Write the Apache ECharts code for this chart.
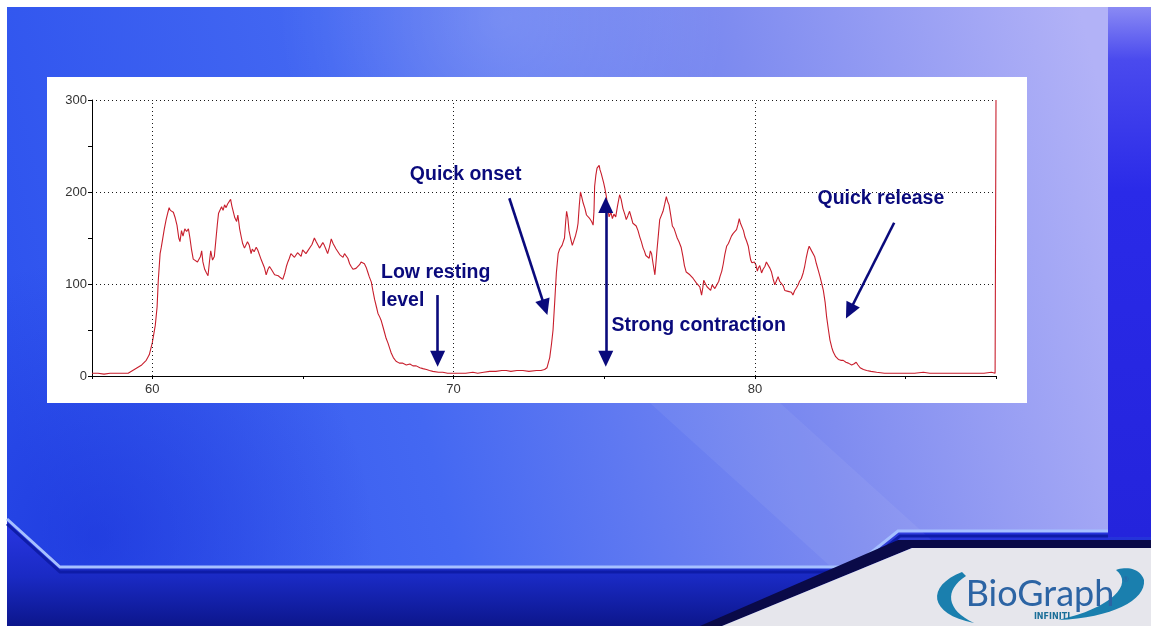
<!DOCTYPE html>
<html><head><meta charset="utf-8">
<script src="https://cdn.jsdelivr.net/npm/echarts@6/dist/echarts.min.js"></script>
<style>html,body{margin:0;padding:0;background:#fff;overflow:hidden}#c{width:1151px;height:626px}</style>
</head><body><div id="c"></div>
<script>
// ---- axis setup (seconds on x, EMG amplitude on y) ----
const xAxisRange = [58, 88];
const yAxisRange = [0, 300];
const xLabelValues = [60, 70, 80];
const yLabelStep = 100;
const xGridValues = [60, 70, 80];

// ---- EMG signal as [time, amplitude] ----
const restBefore = [[58.0,3],[58.2,3],[58.4,2],[58.6,3],[58.8,3],[59.0,3],[59.2,3],[59.35,6],[59.5,9],[59.65,12],[59.8,17],[59.9,23]];
const contraction1 = [[60.0,36],[60.1,55],[60.16,75],[60.2,104],[60.26,133],[60.3,140],[60.34,148],[60.4,160],[60.46,170],[60.52,178],[60.56,183],[60.6,180],[60.64,182],[60.7,178],[60.76,172],[60.82,164],[60.88,150],[60.92,146],[60.97,158],[61.02,152],[61.08,160],[61.14,157],[61.2,160],[61.25,150],[61.3,138],[61.36,127],[61.42,126],[61.5,124],[61.56,122],[61.6,130],[61.64,136],[61.68,124],[61.74,116],[61.8,112],[61.85,109],[61.9,125],[61.94,136],[62.0,126],[62.06,130],[62.1,128],[62.16,165],[62.2,177],[62.26,178],[62.3,184],[62.35,180],[62.4,186],[62.45,183],[62.5,187],[62.56,188],[62.6,192],[62.64,185],[62.7,186],[62.74,172],[62.8,168],[62.84,175],[62.9,160],[62.96,150],[63.0,144],[63.06,139],[63.11,139],[63.16,146],[63.22,142],[63.28,133],[63.32,138],[63.38,135],[63.45,140],[63.5,137],[63.55,135],[63.62,126],[63.67,124],[63.72,118],[63.78,110],[63.84,116],[63.89,119],[63.95,116],[64.0,114],[64.06,110],[64.11,108],[64.18,109],[64.25,107],[64.33,105],[64.4,112],[64.45,119],[64.5,124],[64.55,128],[64.6,133],[64.66,135],[64.72,129],[64.77,131],[64.82,134],[64.88,135],[64.94,130],[64.99,137],[65.05,136],[65.1,133],[65.16,136],[65.22,135],[65.3,143],[65.38,150],[65.44,146],[65.49,144],[65.55,139],[65.6,137],[65.66,145],[65.71,142],[65.76,138],[65.82,133],[65.88,140],[65.94,149],[66.0,144],[66.05,141],[66.1,138],[66.16,135],[66.22,132],[66.27,131],[66.33,129],[66.38,133],[66.44,131],[66.49,128],[66.55,122],[66.6,119],[66.66,116],[66.71,115],[66.76,117],[66.82,119],[66.88,121],[66.93,124],[66.98,125],[67.04,122],[67.1,118],[67.15,113],[67.2,108],[67.27,102],[67.32,93],[67.38,83],[67.44,75],[67.49,68],[67.55,64],[67.6,60],[67.66,53],[67.71,47],[67.76,41],[67.82,36],[67.88,30],[67.93,25],[68.0,20],[68.09,16]];
const restBetween = [[68.2,14],[68.3,14],[68.43,12],[68.55,13],[68.65,11],[68.76,11],[68.88,9],[68.98,8],[69.1,7],[69.2,6],[69.31,5],[69.5,4],[69.64,4],[69.8,3],[70.0,3],[70.2,3],[70.4,3],[70.64,4],[70.8,3],[71.0,4],[71.2,5],[71.4,5],[71.6,6],[71.75,6],[71.9,5],[72.1,6],[72.3,6],[72.5,5],[72.75,6],[72.9,6],[73.02,7]];
const contraction2 = [[73.1,9],[73.19,20],[73.25,35],[73.3,50],[73.36,83],[73.41,112],[73.47,133],[73.52,138],[73.55,140],[73.6,142],[73.63,144],[73.68,150],[73.72,168],[73.75,179],[73.79,172],[73.83,158],[73.88,150],[73.94,142],[74.0,148],[74.05,153],[74.1,160],[74.13,166],[74.17,185],[74.21,200],[74.25,195],[74.3,188],[74.36,182],[74.41,175],[74.47,173],[74.52,171],[74.58,168],[74.63,164],[74.66,180],[74.68,206],[74.72,218],[74.76,226],[74.8,224],[74.83,229],[74.86,224],[74.9,220],[74.94,218],[74.98,210],[75.02,204],[75.07,195],[75.12,182],[75.16,173],[75.22,178],[75.27,171],[75.32,176],[75.38,173],[75.44,185],[75.51,197],[75.56,192],[75.62,182],[75.68,176],[75.73,170],[75.78,174],[75.84,179],[75.9,172],[75.95,166],[76.0,168],[76.06,163],[76.12,158],[76.18,151],[76.23,146],[76.29,139],[76.33,136],[76.38,131],[76.44,133],[76.49,128],[76.53,136],[76.57,133],[76.62,122],[76.68,110],[76.72,125],[76.75,137],[76.8,155],[76.84,170],[76.9,172],[76.95,179],[77.0,186],[77.06,195],[77.1,190],[77.15,186],[77.2,176],[77.26,163],[77.32,160],[77.37,155],[77.42,150],[77.48,146],[77.55,140],[77.61,130],[77.66,120],[77.72,113],[77.78,115],[77.84,110],[77.9,108],[77.95,106],[78.0,104],[78.06,101],[78.12,99],[78.17,97],[78.23,88],[78.27,96],[78.3,104],[78.36,100],[78.41,97],[78.47,95],[78.53,93],[78.58,99],[78.61,99],[78.67,95],[78.73,97],[78.8,103],[78.84,108],[78.9,114],[78.95,122],[79.0,132],[79.06,141],[79.12,144],[79.17,148],[79.22,152],[79.28,155],[79.34,153],[79.39,159],[79.44,165],[79.48,171],[79.52,166],[79.56,168],[79.62,158],[79.67,151],[79.72,147],[79.78,141],[79.82,133],[79.86,126],[79.9,123],[79.94,121],[79.98,124],[80.03,121],[80.08,114],[80.11,117],[80.16,120],[80.22,112],[80.27,116],[80.33,119],[80.38,124],[80.44,122],[80.5,117],[80.55,113],[80.6,106],[80.66,99],[80.72,104],[80.77,108],[80.82,103],[80.88,104],[80.94,98],[80.99,93],[81.05,95],[81.1,92],[81.16,90],[81.21,91],[81.26,88],[81.32,93],[81.38,96],[81.43,99],[81.48,103],[81.54,106],[81.6,112],[81.65,119],[81.7,128],[81.76,137],[81.8,141],[81.84,139],[81.88,136],[81.93,137],[81.98,130],[82.04,122],[82.1,115],[82.16,108],[82.22,100],[82.27,93],[82.33,80],[82.38,64],[82.44,50],[82.49,39],[82.55,31],[82.6,26],[82.68,21],[82.77,18]];
const restAfter = [[82.85,17],[82.93,17],[83.02,15],[83.1,14],[83.16,13],[83.21,12],[83.28,13],[83.36,15],[83.42,12],[83.49,9],[83.6,7],[83.71,6],[83.85,5],[84.04,4],[84.3,3],[84.5,3],[84.71,3],[85.0,3],[85.3,3],[85.59,4],[85.8,3],[86.1,3],[86.37,3],[86.7,3],[87.0,3],[87.3,3],[87.6,3],[87.85,4],[87.97,3],[88.0,300]];

// ---- annotations (anchored in data coordinates) ----
const annotationTexts = [
  {text: 'Quick onset', at: [70.4, 218.5], align: 'center'},
  {text: 'Quick release', at: [84.18, 192.4], align: 'center'},
  {text: 'Strong contraction', at: [78.13, 54.3], align: 'center'},
  {text: 'Low resting\nlevel', at: [67.59, 96.7], align: 'left'}
];
const annotationArrows = [
  {from: [69.47, 88], to: [69.47, 18.8], heads: ['none', 'triangle']},
  {from: [71.85, 193.2], to: [73.03, 74.6], heads: ['none', 'triangle']},
  {from: [75.05, 185.9], to: [75.05, 18.8], heads: ['triangle', 'triangle']},
  {from: [84.62, 166.6], to: [83.14, 70.4], heads: ['none', 'triangle']}
];

const signal = [].concat(restBefore, contraction1, restBetween, contraction2, restAfter);

const navy = '#0a0a7c';
const headSize = [15, 16];
const dotted = {type: [1, 3], color: '#1a1a1a', width: 1};

const gridMarks = xGridValues.map(v => ({xAxis: v, symbol: 'none', lineStyle: dotted}));
const arrowMarks = annotationArrows.map(a => [
  {coord: a.from, symbol: a.heads[0], symbolSize: headSize, lineStyle: {color: navy, width: 2.6, type: 'solid'}},
  {coord: a.to, symbol: a.heads[1], symbolSize: headSize}
]);
const textMarks = annotationTexts.map(t => ({
  coord: t.at,
  symbol: 'circle', symbolSize: 1,
  itemStyle: {color: 'rgba(0,0,0,0)'},
  label: {
    show: true, position: 'inside', formatter: t.text, align: t.align, verticalAlign: 'middle',
    color: navy, fontSize: 19.5, fontWeight: 'bold', lineHeight: 28,
    fontFamily: '"Liberation Sans", Arial, sans-serif'
  }
}));

// ---- decorative slide background ----
function bezierPoly(segs, n) {
  const pts = [];
  segs.forEach(s => {
    for (let i = 0; i <= n; i++) {
      const t = i / n, u = 1 - t;
      pts.push([
        u*u*u*s[0][0] + 3*u*u*t*s[1][0] + 3*u*t*t*s[2][0] + t*t*t*s[3][0],
        u*u*u*s[0][1] + 3*u*u*t*s[1][1] + 3*u*t*t*s[2][1] + t*t*t*s[3][1]
      ]);
    }
  });
  return pts;
}
const swooshLeft = bezierPoly([
  [[962,572],[926,586],[928,614],[974,623]],
  [[974,623],[946,610],[944,590],[966,576]]
], 16);
const swooshRight = bezierPoly([
  [[1058,620],[1112,618],[1146,600],[1144,580]],
  [[1144,580],[1140,568],[1126,566],[1116,570]],
  [[1116,570],[1134,584],[1112,608],[1058,620]]
], 16);

const mainPoly = [[7,7],[1108,7],[1108,530],[898,530],[853,566],[62,566],[7,518]];
let zi = -200;
const bg = [
  {type: 'rect', z: zi++, shape: {x: 0, y: 0, width: 1151, height: 626}, style: {fill: '#ffffff'}},
  {type: 'rect', z: zi++, shape: {x: 7, y: 7, width: 1144, height: 619},
    style: {fill: new echarts.graphic.LinearGradient(0, 0, 0, 1, [
      {offset: 0, color: '#2a30e6'}, {offset: 0.85, color: '#2634dc'}, {offset: 0.92, color: '#1a2ac4'}, {offset: 1, color: '#0c168c'}])}},
  {type: 'rect', z: zi++, shape: {x: 1108, y: 7, width: 43, height: 530},
    style: {fill: new echarts.graphic.LinearGradient(0, 0, 0, 1, [
      {offset: 0, color: '#8a8af4'}, {offset: 0.1, color: '#4a4aee'}, {offset: 0.35, color: '#2a2ae8'}, {offset: 1, color: '#2424dc'}])}},
  {type: 'polygon', z: zi++, shape: {points: mainPoly},
    style: {fill: new echarts.graphic.LinearGradient(0, 0.7, 1, 0.2, [
      {offset: 0, color: '#2d52ee'}, {offset: 0.35, color: '#4468f2'}, {offset: 0.7, color: '#7f8cf0'}, {offset: 1, color: '#b2b2f7'}])}},
  {type: 'polygon', z: zi++, shape: {points: mainPoly},
    style: {fill: new echarts.graphic.RadialGradient(0.45, 0.02, 0.4, [
      {offset: 0, color: 'rgba(255,255,255,0.16)'}, {offset: 1, color: 'rgba(255,255,255,0)'}])}},
  {type: 'polygon', z: zi++, shape: {points: mainPoly},
    style: {fill: new echarts.graphic.RadialGradient(0.08, 0.95, 0.5, [
      {offset: 0, color: 'rgba(20,40,210,0.5)'}, {offset: 1, color: 'rgba(20,40,210,0)'}])}},
  {type: 'polygon', z: zi++, shape: {points: [[650,403],[780,403],[960,566],[830,566]]},
    style: {fill: 'rgba(255,255,255,0.06)'}},
  {type: 'polyline', z: zi++, shape: {points: [[7,524],[60,572],[855,572],[900,536],[1108,536]]},
    style: {stroke: '#0e1ca8', lineWidth: 3, fill: null}},
  {type: 'polyline', z: zi++, shape: {points: [[7,519],[60,567],[853,567],[898,531],[1108,531]]},
    style: {stroke: '#a6c0ff', lineWidth: 3, fill: null}},
  {type: 'polygon', z: zi++, shape: {points: [[700,626],[898,540],[1151,540],[1151,548],[912,548],[722,626]]},
    style: {fill: '#0a0a48'}},
  {type: 'polygon', z: zi++, shape: {points: [[722,626],[912,548],[1151,548],[1151,626]]},
    style: {fill: '#e6e6ec'}},
  {type: 'polygon', z: zi++, shape: {points: swooshLeft}, style: {fill: '#1a7fae'}},
  {type: 'polygon', z: zi++, shape: {points: swooshRight}, style: {fill: '#1a7fae'}},
  {type: 'text', z: zi++, x: 1040, y: 594,
    style: {text: 'BioGraph', align: 'center', verticalAlign: 'middle', fontSize: 36, fontFamily: 'Lato, sans-serif', fill: '#2c64a4'}},
  {type: 'text', z: zi++, x: 1126, y: 580,
    style: {text: '®', align: 'center', verticalAlign: 'middle', fontSize: 7, fontFamily: 'Lato, sans-serif', fill: '#2c64a4'}},
  {type: 'text', z: zi++, x: 1052, y: 617,
    style: {text: 'INFINITI', align: 'center', verticalAlign: 'middle', fontSize: 8, fontWeight: 'bold', fontFamily: 'DejaVu Sans, sans-serif', fill: '#1a6e98'}},
  {type: 'rect', z: zi++, shape: {x: 47, y: 77, width: 980, height: 326}, style: {fill: '#ffffff'}}
];

const labelFont = '"Liberation Sans Narrow", "Liberation Sans", Arial, sans-serif';
const chart = echarts.init(document.getElementById('c'), null, {renderer: 'canvas'});
chart.setOption({
  animation: false,
  backgroundColor: 'transparent',
  graphic: {elements: bg},
  grid: {left: 92, top: 100, width: 904, height: 276, show: false},
  xAxis: {
    type: 'value', min: xAxisRange[0], max: xAxisRange[1], splitNumber: 6,
    axisLine: {show: true, onZero: false, lineStyle: {color: '#000', width: 1}},
    axisTick: {show: true, length: 3, lineStyle: {color: '#000'}},
    axisLabel: {
      margin: 7, color: '#333', fontSize: 13, fontFamily: labelFont,
      formatter: v => (xLabelValues.indexOf(Math.round(v)) >= 0 && Math.abs(v - Math.round(v)) < 1e-6) ? String(Math.round(v)) : ''
    },
    splitLine: {show: false}
  },
  yAxis: {
    type: 'value', min: yAxisRange[0], max: yAxisRange[1], interval: yLabelStep,
    axisLine: {show: true, lineStyle: {color: '#000', width: 1}},
    axisTick: {show: true, length: 4, lineStyle: {color: '#000'}},
    minorTick: {show: true, splitNumber: 2, length: 4, lineStyle: {color: '#000'}},
    axisLabel: {margin: 5, color: '#333', fontSize: 13, fontFamily: labelFont},
    splitLine: {show: true, lineStyle: dotted}
  },
  series: [{
    type: 'line', data: signal, showSymbol: false, symbol: 'none',
    lineStyle: {color: '#c81e2c', width: 1.1}, z: 3,
    markLine: {
      silent: true, animation: false, symbol: ['none', 'none'],
      label: {show: false},
      lineStyle: {color: navy, width: 2.6, type: 'solid'},
      emphasis: {disabled: true},
      data: gridMarks.concat(arrowMarks)
    },
    markPoint: {
      silent: true, animation: false,
      data: textMarks
    }
  }]
});
</script>
</body></html>
